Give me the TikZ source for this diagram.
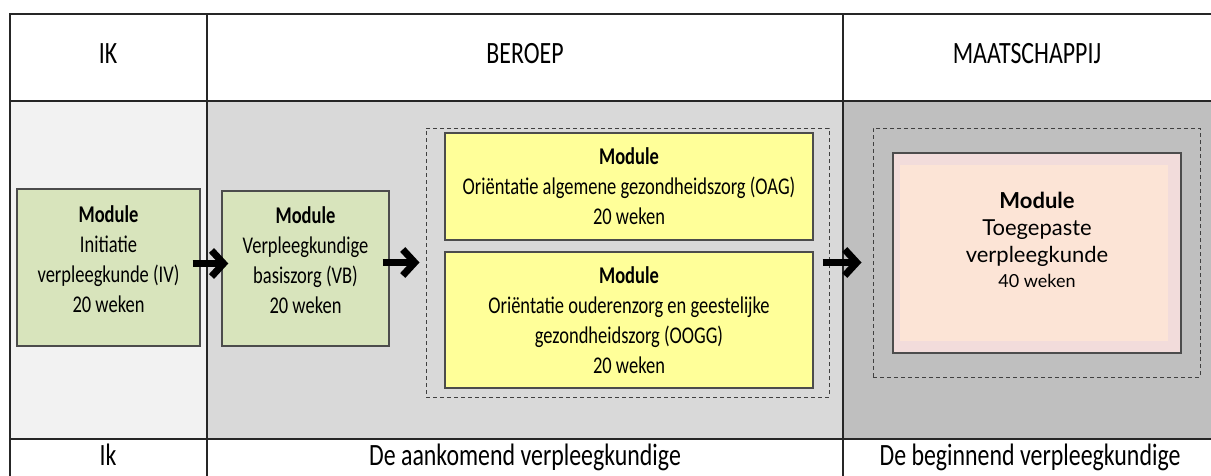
\documentclass[tikz,border=0pt]{standalone}
\usepackage{fontspec}
\setmainfont[FakeStretch=0.77]{Carlito}
\newfontfamily\aptosfont{Lato}
\usetikzlibrary{arrows.meta}

\definecolor{cellik}{HTML}{F2F2F2}
\definecolor{cellberoep}{HTML}{D9D9D9}
\definecolor{cellmaat}{HTML}{BFBFBF}
\definecolor{modgreen}{HTML}{D8E4BC}
\definecolor{modyellow}{HTML}{FFFF99}
\definecolor{modpink}{HTML}{F2DCDB}
\definecolor{modpeach}{HTML}{FCE4D6}

\begin{document}
\begin{tikzpicture}[x=1pt,y=-1pt,
    cell/.style={draw=black!85, line width=1.6pt},
    head/.style={anchor=base, font=\fontsize{31}{36}\selectfont},
    module/.style={draw=black!70, line width=1.4pt, align=center, inner sep=0pt,
      font=\fontsize{24}{30}\selectfont},
    modtext/.style={align=center, inner sep=0pt, font=\fontsize{24}{30}\selectfont},
    group/.style={draw=black!75, dash pattern=on 4pt off 3pt, line width=1pt, inner sep=0pt},
    flow/.style={line width=7pt, -{Straight Barb[length=12pt,width=26pt]}}]
  \useasboundingbox (0,0) rectangle (1211,475);
  % KOLOMMEN
  \fill[cellik] (10,101) rectangle (207,439);
  \fill[cellberoep] (207,101) rectangle (843,439);
  \fill[cellmaat] (843,101) rectangle (1212,439);
  \draw[cell] (1212,14) -- (10,14) -- (10,476);
  \draw[cell] (10,101) -- (1212,101);
  \draw[cell] (10,439) -- (1212,439);
  \draw[cell] (207,14) -- (207,476);
  \draw[cell] (843,14) -- (843,476);
  % KOPPEN
  \node[head] (hik) at (108,63) {IK};
  \node[head] (hberoep) at (525,63) {BEROEP};
  \node[head] (hmaat) at (1027,63) {MAATSCHAPPIJ};
  \node[head] (fik) at (108,465) {Ik};
  \node[head] (fberoep) at (525,465) {De aankomend verpleegkundige};
  \node[head] (fmaat) at (1030,465) {De beginnend verpleegkundige};
  % GROEPEN
  \node[group, minimum width=403pt, minimum height=269pt] (grp) at (627.5,262.5) {};
  \node[group, minimum width=327pt, minimum height=249pt] (soc) at (1036.5,252.5) {};
  % MODULES
  \node[module, fill=modgreen, minimum width=183pt, minimum height=157pt] (iv) at (108.5,267.5) {};
  \node[modtext] (ivtext) at ([yshift=8pt]iv.center)
    {\textbf{Module}\\Initiatie\\verpleegkunde (IV)\\20 weken};
  \node[module, fill=modgreen, minimum width=167pt, minimum height=155pt] (vb) at (305.5,268.5) {};
  \node[modtext] (vbtext) at ([yshift=8pt]vb.center)
    {\textbf{Module}\\Verpleegkundige\\basiszorg (VB)\\20 weken};
  \node[module, fill=modyellow, minimum width=368pt, minimum height=107pt] (oag) at (629,186.5)
    {\textbf{Module}\\Oriëntatie algemene gezondheidszorg  (OAG)\\20 weken};
  \node[module, fill=modyellow, minimum width=368pt, minimum height=136pt] (oogg) at (629,320)
    {\textbf{Module}\\Oriëntatie ouderenzorg  en geestelijke\\gezondheidszorg (OOGG)\\20 weken};
  \node[module, fill=modpink, minimum width=288pt, minimum height=200pt,
    path picture={\fill[modpeach] ([shift={(7,12)}]path picture bounding box.north west)
      rectangle ([shift={(-13,-12)}]path picture bounding box.south east);}] (tv) at (1037,253) {};
  \node[modtext, font=\aptosfont\fontsize{22}{27}\selectfont] (tvtext) at ([yshift=13pt]tv.center)
    {\textbf{Module}\\Toegepaste\\verpleegkunde\\[-2pt]{\fontsize{18}{22}\selectfont 40 weken}};
  % PIJLEN
  \draw[flow, shorten <=-8pt, shorten >=-7pt] ([yshift=4pt]iv.east) -- ([yshift=4pt]iv.east -| vb.west);
  \draw[flow, shorten <=-7pt, shorten >=6pt] (grp.west -| vb.east) -- (grp.west);
  \draw[flow, shorten <=-7pt, shorten >=11pt] (grp.east) -- (grp.east -| soc.west);
\end{tikzpicture}
\end{document}
